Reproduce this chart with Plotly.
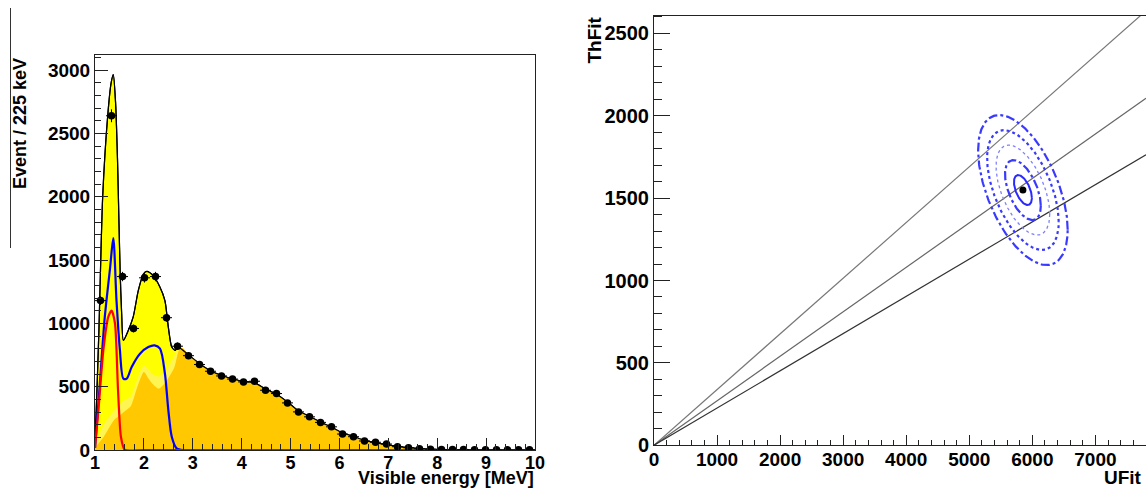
import numpy as np
import plotly.graph_objects as go

# ---------------- Left panel data ----------------
bin_centers = [1.1125 + 0.225 * i for i in range(40)]
counts = [1180, 2640, 1370, 960, 1360, 1370, 1045, 820, 745, 675,
          622, 585, 560, 538, 543, 472, 446, 372, 301, 262,
          218, 183, 126, 105, 71, 61, 47, 26, 18, 10,
          6, 4, 3, 3, 2, 2, 2, 1, 1, 1]
count_err = [34, 51, 37, 31, 37, 37, 32, 29, 27, 26,
             25, 24, 24, 23, 23, 22, 21, 19, 17, 16,
             15, 14, 11, 10, 8, 8, 7, 5, 4, 3,
             2, 2, 2, 2, 1, 1, 1, 1, 1, 1]

# total fit (black line, yellow fill)
total_e = [1.0, 1.035, 1.08, 1.157, 1.26, 1.33, 1.374, 1.42, 1.46, 1.49, 1.515, 1.545, 1.58,
           1.68, 1.78, 1.885, 1.99, 2.06, 2.19, 2.33, 2.43, 2.50, 2.57, 2.64, 2.70]
total_v = [60, 420, 945, 2000, 2640, 2900, 2965, 2750, 2300, 1800, 1400, 1080, 866,
           944, 1049, 1259, 1390, 1411, 1377, 1285, 1180, 970, 813, 787, 813]
# common tail of the fit (reactor dominated)
tail_e = [2.91, 3.14, 3.36, 3.59, 3.81, 4.04, 4.26, 4.49, 4.71, 4.94, 5.16, 5.39,
          5.61, 5.84, 6.06, 6.29, 6.51, 6.74, 6.96, 7.19, 7.41, 7.64, 7.86, 8.09,
          8.5, 9.0, 9.5, 10.0]
tail_v = [752, 682, 626, 588, 561, 542, 530, 482, 440, 378, 310, 265,
          220, 180, 136, 106, 76, 58, 42, 28, 18, 11, 7, 4,
          3, 2, 1, 1]

# pale-yellow component top
pale_e = [1.0, 1.18, 1.39, 1.59, 1.73, 1.85, 2.0, 2.17, 2.3, 2.45, 2.62, 2.72]
pale_v = [40, 200, 310, 390, 420, 540, 665, 600, 580, 625, 740, 810]

# orange component (reactor)
orange_e = [1.0, 1.18, 1.39, 1.59, 1.73, 1.85, 2.0, 2.1, 2.17, 2.3, 2.45, 2.62, 2.72, 2.79]
orange_v = [20, 105, 236, 300, 345, 480, 616, 560, 525, 485, 540, 650, 790, 805]

# blue curve (geo total)
blue_e = [1.0, 1.10, 1.20, 1.31, 1.374, 1.44, 1.51, 1.58, 1.65, 1.75, 1.92, 2.09, 2.22,
          2.33, 2.43, 2.50, 2.57, 2.67, 2.8]
blue_v = [16, 527, 1049, 1443, 1674, 1180, 787, 564, 564, 656, 761, 813, 826,
          800, 604, 315, 105, 13, 0]

# red curve (Th)
red_e = [1.0, 1.07, 1.17, 1.27, 1.34, 1.41, 1.47, 1.53, 1.61, 2.0, 5.0, 10.0]
red_v = [16, 315, 787, 1049, 1102, 997, 480, 105, 0, 0, 0, 0]

# ---------------- Right panel data ----------------
u_best, th_best = 5850, 1549
sigma_u, sigma_th, rho = 142, 91, -0.53
n_sigma = [1, 2, 3, 4, 5]
ring_dash = ["solid", "dashdot", "dot", "dot", "dashdot"]
ring_width = [2, 2.2, 1.3, 2.2, 2.2]
ring_color = ["#2a2aff", "#3a3aff", "#8080ff", "#3a3aff", "#3a3aff"]
ratio_slopes = [0.338, 0.270, 0.226]
ratio_colors = ["#777777", "#666666", "#333333"]
u_max = 7802

fig = go.Figure()

# filled areas
fig.add_trace(go.Scatter(x=total_e + tail_e, y=total_v + tail_v, mode="lines",
                         line=dict(color="black", width=1.2, shape="spline", smoothing=0.7),
                         fill="tozeroy", fillcolor="#FFFF00", xaxis="x", yaxis="y"))
fig.add_trace(go.Scatter(x=pale_e + tail_e, y=pale_v + tail_v, mode="lines",
                         line=dict(width=0, shape="spline", smoothing=0.7),
                         fill="tozeroy", fillcolor="#FFF552", xaxis="x", yaxis="y"))
fig.add_trace(go.Scatter(x=orange_e + tail_e, y=orange_v + tail_v, mode="lines",
                         line=dict(width=0, shape="spline", smoothing=0.7),
                         fill="tozeroy", fillcolor="#FFC800", xaxis="x", yaxis="y"))
# redraw fit line on top
fig.add_trace(go.Scatter(x=total_e + tail_e, y=total_v + tail_v, mode="lines",
                         line=dict(color="black", width=1.2, shape="spline", smoothing=0.7),
                         xaxis="x", yaxis="y"))
fig.add_trace(go.Scatter(x=blue_e, y=blue_v, mode="lines",
                         line=dict(color="#0000FF", width=2.2, shape="spline", smoothing=0.8),
                         xaxis="x", yaxis="y"))
fig.add_trace(go.Scatter(x=red_e, y=red_v, mode="lines",
                         line=dict(color="#FF0000", width=2.2, shape="spline", smoothing=0.6),
                         xaxis="x", yaxis="y"))
fig.add_trace(go.Scatter(x=bin_centers, y=counts, mode="markers",
                         marker=dict(color="black", size=7.5),
                         error_x=dict(type="constant", value=0.1125, color="black", thickness=1, width=0),
                         error_y=dict(type="data", array=count_err, color="black", thickness=1, width=0),
                         xaxis="x", yaxis="y"))

# right panel: ratio lines
for s, c in zip(ratio_slopes, ratio_colors):
    fig.add_trace(go.Scatter(x=[0, u_max], y=[0, s * u_max], mode="lines",
                             line=dict(color=c, width=1.2), xaxis="x2", yaxis="y2"))

# confidence contours
t = np.linspace(0, 2 * np.pi, 241)
for k, d, w, c in zip(n_sigma, ring_dash, ring_width, ring_color):
    ex = u_best + k * sigma_u * np.cos(t)
    ey = th_best + k * sigma_th * (rho * np.cos(t) + np.sqrt(1 - rho ** 2) * np.sin(t))
    fig.add_trace(go.Scatter(x=ex, y=ey, mode="lines",
                             line=dict(color=c, width=w, dash=d), xaxis="x2", yaxis="y2"))
fig.add_trace(go.Scatter(x=[u_best], y=[th_best], mode="markers",
                         marker=dict(color="black", size=7), xaxis="x2", yaxis="y2"))

W, H = 1146, 490
bold = dict(family="Liberation Sans, Arial, sans-serif", color="black", weight="bold")

def px_x(p):
    return p / W

def px_y(p):
    return 1 - p / H

axis_common = dict(showgrid=False, zeroline=False, showline=True, linecolor="#222222",
                   linewidth=1, mirror=True, ticks="inside", tickcolor="#222222", tickwidth=1,
                   automargin=False)

fig.update_layout(
    width=W, height=H, margin=dict(l=0, r=0, t=0, b=0, pad=0, autoexpand=False),
    paper_bgcolor="white", plot_bgcolor="white", showlegend=False,
    xaxis=dict(domain=[px_x(95), px_x(535)], range=[1, 10], tickmode="linear", tick0=1, dtick=1,
               ticklen=12, ticklabelstandoff=-4,
               minor=dict(ticks="inside", ticklen=6, dtick=0.2, tick0=1, tickcolor="#222222"),
               tickfont=dict(size=18, **bold), anchor="y", **axis_common),
    yaxis=dict(domain=[px_y(450), px_y(55)], range=[0, 3120], tickmode="linear", tick0=0, dtick=500,
               ticklen=13, minor=dict(ticks="inside", ticklen=6, dtick=100, tickcolor="#222222"),
               tickfont=dict(size=19, **bold), anchor="x", **axis_common),
    xaxis2=dict(domain=[px_x(654), 1.0], range=[0, u_max], tickmode="linear", tick0=0, dtick=1000,
                ticklen=10, ticklabelstandoff=-3,
                minor=dict(ticks="inside", ticklen=5, dtick=200, tickcolor="#222222"),
                tickfont=dict(size=19, **bold), anchor="y2", **axis_common),
    yaxis2=dict(domain=[px_y(445.3), px_y(15.7)], range=[0, 2607], tickmode="linear", tick0=0, dtick=500,
                ticklen=16, minor=dict(ticks="inside", ticklen=8, dtick=100, tickcolor="#222222"),
                tickfont=dict(size=20, **bold), anchor="x2", **axis_common),
    annotations=[
        dict(text="Event / 225 keV", x=px_x(19.5), y=px_y(123.5), xref="paper", yref="paper",
             textangle=-90, showarrow=False, font=dict(size=18, **bold), xanchor="center", yanchor="middle"),
        dict(text="Visible energy [MeV]", x=px_x(536), y=0.0, xref="paper", yref="paper",
             showarrow=False, font=dict(size=18, **bold), xanchor="right", yanchor="bottom"),
        dict(text="ThFit", x=px_x(594.5), y=px_y(40), xref="paper", yref="paper",
             textangle=-90, showarrow=False, font=dict(size=19, **bold), xanchor="center", yanchor="middle"),
        dict(text="UFit", x=px_x(1144), y=0.0, xref="paper", yref="paper",
             showarrow=False, font=dict(size=19, **bold), xanchor="right", yanchor="bottom"),
    ],
    shapes=[dict(type="line", xref="paper", yref="paper", x0=px_x(10.5), x1=px_x(10.5),
                 y0=px_y(8), y1=px_y(248), line=dict(color="#333333", width=1))],
)

fig.write_html("out.html", config={"displayModeBar": False},
               post_script="document.body.style.margin='0px';document.body.style.overflow='hidden';")
